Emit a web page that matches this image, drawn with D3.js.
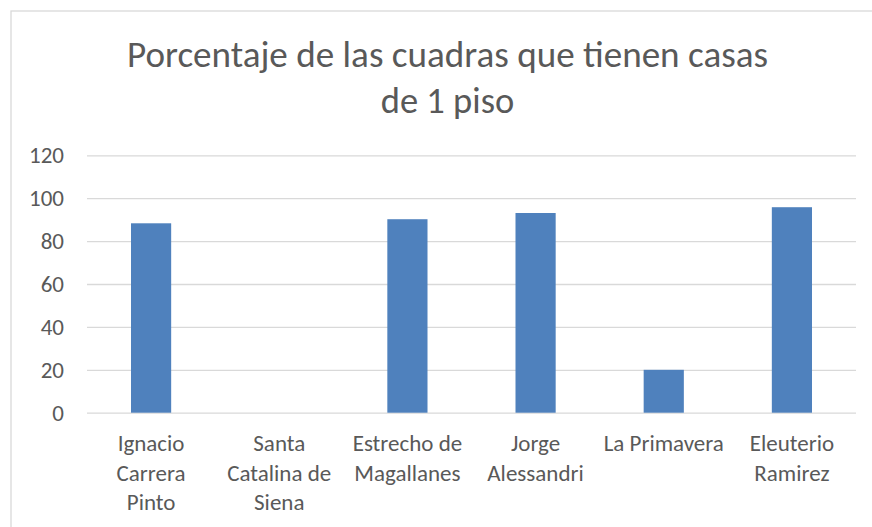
<!DOCTYPE html>
<html>
<head>
<meta charset="utf-8">
<script src="https://cdn.jsdelivr.net/npm/d3@7"></script>
<style>
  html, body { margin: 0; padding: 0; background: #fff; }
  svg { display: block; }
  text { font-family: Carlito, Calibri, Lato, sans-serif; fill: #595959; }
</style>
</head>
<body>
<svg id="chart" width="872" height="527"></svg>
<script>
const titleLines = ["Porcentaje de las cuadras que tienen casas", "de 1 piso"];
const categories = ["Ignacio Carrera Pinto", "Santa Catalina de Siena", "Estrecho de Magallanes", "Jorge Alessandri", "La Primavera", "Eleuterio Ramirez"];
const categoryLines = [["Ignacio", "Carrera", "Pinto"], ["Santa", "Catalina de", "Siena"], ["Estrecho de", "Magallanes"], ["Jorge", "Alessandri"], ["La Primavera"], ["Eleuterio", "Ramirez"]];
const values = [88.3, 0, 90.2, 93.1, 20, 95.8];
const yTicks = [0, 20, 40, 60, 80, 100, 120];

const svg = d3.select("#chart");
const W = 872, H = 527;

// chart area border
svg.append("rect")
  .attr("x", 11).attr("y", 11)
  .attr("width", W + 20).attr("height", H + 20)
  .attr("fill", "#fff")
  .attr("stroke", "#d9d9d9").attr("stroke-width", 1.3);

const plot = { left: 87, right: 856, top: 155.3, bottom: 412.7 };

const x = d3.scaleBand()
  .domain(categories)
  .range([plot.left, plot.right])
  .paddingInner(2.19 / 3.19)
  .paddingOuter(2.19 / 3.19 / 2);

const y = d3.scaleLinear().domain([0, 120]).range([plot.bottom, plot.top]);

// gridlines
svg.append("g")
  .attr("transform", `translate(${plot.left},0)`)
  .call(d3.axisLeft(y).tickValues(yTicks).tickSize(-(plot.right - plot.left)).tickFormat(""))
  .call(g => g.select(".domain").remove())
  .call(g => g.selectAll(".tick line").attr("stroke", "#d9d9d9").attr("stroke-width", 1.3));

// y tick labels
svg.append("g")
  .attr("transform", `translate(64,0)`)
  .call(d3.axisLeft(y).tickValues(yTicks).tickSize(0).tickPadding(0))
  .call(g => g.select(".domain").remove())
  .call(g => g.selectAll(".tick text")
    .attr("font-size", 23)
    .attr("fill", "#595959")
    .attr("dy", "0.33em")
    .style("font-family", "Carlito, Calibri, Lato, sans-serif"));

// bars
svg.append("g").selectAll("rect")
  .data(values)
  .join("rect")
  .attr("x", (d, i) => x(categories[i]))
  .attr("width", x.bandwidth())
  .attr("y", d => y(d))
  .attr("height", d => y(0) - y(d))
  .attr("fill", "#4f81bd");

// category labels
const catG = svg.append("g");
categoryLines.forEach((lines, i) => {
  const cx = x(categories[i]) + x.bandwidth() / 2;
  const t = catG.append("text")
    .attr("text-anchor", "middle")
    .attr("font-size", 23);
  lines.forEach((ln, j) => {
    t.append("tspan").attr("x", cx).attr("y", 451 + j * 29.5).text(ln);
  });
});

// title
const titleWidths = [641, 132.5];
titleLines.forEach((ln, i) => {
  const t = svg.append("text")
    .attr("x", 447.5)
    .attr("y", 66.7 + i * 46)
    .attr("text-anchor", "middle")
    .attr("font-size", 36.5)
    .text(ln);
  const w = t.node().getComputedTextLength();
  if (Math.abs(w - titleWidths[i]) > 6) {
    t.attr("textLength", titleWidths[i]).attr("lengthAdjust", "spacingAndGlyphs");
  }
});
</script>
</body>
</html>
